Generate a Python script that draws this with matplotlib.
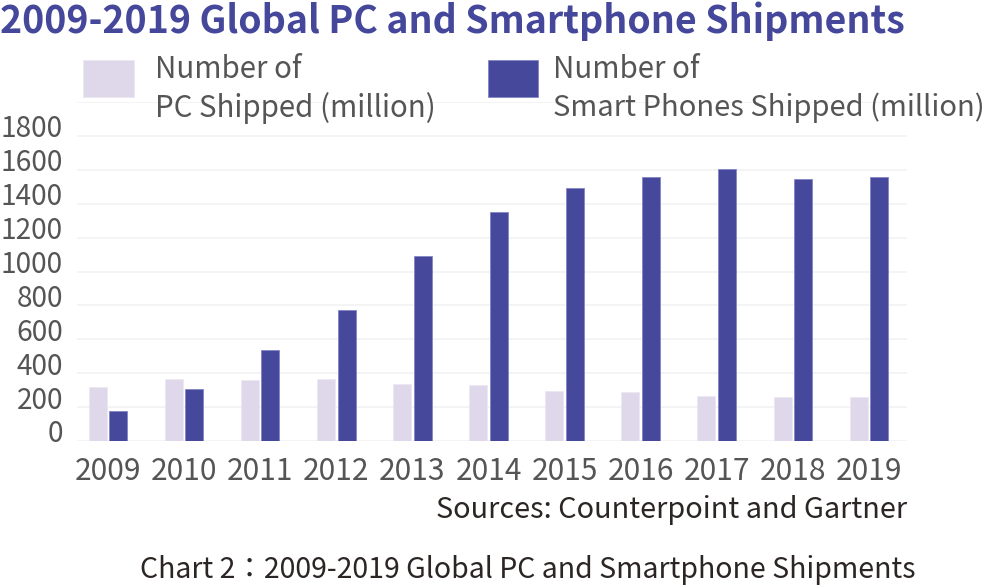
import matplotlib
matplotlib.use("Agg")
import matplotlib.pyplot as plt
from matplotlib.patches import Rectangle
from matplotlib.transforms import ScaledTranslation
import numpy as np

plt.rcParams['font.family'] = ['Noto Sans CJK SC', 'DejaVu Sans']

# data
years = ['2009', '2010', '2011', '2012', '2013', '2014', '2015', '2016', '2017', '2018', '2019']
pc_shipped = [319, 364, 361, 364, 335, 329, 295, 287, 266, 262, 262]
phones_shipped = [177, 307, 535, 773, 1090, 1350, 1492, 1560, 1606, 1543, 1560]
ytick_vals = list(range(0, 2001, 200))
ytick_labels = [str(v) for v in ytick_vals[:-1]] + ['']

# colours
pc_col = '#DFD8EA'
phone_col = '#46489B'
text_col = '#555555'
title_col = '#45479B'
note_col = '#2B2523'

W, H = 991, 588
fig = plt.figure(figsize=(W / 100, H / 100), dpi=100)

# axes placed in pixel terms
ax = fig.add_axes([77 / W, (H - 441) / H, 830 / W, 339 / H])

x = np.arange(len(years))
bw = 0.237
off = 0.135
ax.bar(x - off, pc_shipped, width=bw, color=pc_col, edgecolor='#ECE8F2', linewidth=0.6, zorder=3)
ax.bar(x + off, phones_shipped, width=bw, color=phone_col, edgecolor='#8486C8', linewidth=0.6, zorder=3)

ax.set_xlim(-0.407, 10.5)
ax.set_ylim(0, 2000)
ax.set_yticks(ytick_vals)
ax.set_yticklabels(ytick_labels)
ax.set_xticks(x)
ax.set_xticklabels(years)

ax.grid(axis='y', color='#F2F2F2', linewidth=1.2, zorder=0)
ax.grid(axis='x', visible=False)
for s in ax.spines.values():
    s.set_visible(False)
ax.tick_params(axis='x', length=0, labelsize=21.5, colors=text_col, pad=11)
ax.tick_params(axis='y', length=0, labelsize=20.2, colors=text_col, pad=10)

# y labels sit a little above their gridlines
shift = ScaledTranslation(0, 10 / 100, fig.dpi_scale_trans)
for lab in ax.get_yticklabels():
    lab.set_transform(lab.get_transform() + shift)

def px(xp, yp):
    return xp / W, 1 - yp / H

# title
fig.text(*px(0, 21), '2009-2019 Global PC and Smartphone Shipments', fontsize=27,
         fontweight='bold', color=title_col, va='center', ha='left')

# legend drawn by hand
fig.patches.append(Rectangle(px(83, 97), 51 / W, 37 / H, transform=fig.transFigure,
                             facecolor=pc_col, edgecolor='#ECE8F2', linewidth=0.6))
fig.patches.append(Rectangle(px(488, 97), 50 / W, 37 / H, transform=fig.transFigure,
                             facecolor=phone_col, edgecolor='#8486C8', linewidth=0.6))
fig.text(*px(155, 69), 'Number of', fontsize=21.2, color=text_col, va='center')
fig.text(*px(155, 108), 'PC Shipped (million)', fontsize=21.2, color=text_col, va='center')
fig.text(*px(553, 69), 'Number of', fontsize=21.2, color=text_col, va='center')
fig.text(*px(553, 108), 'Smart Phones Shipped (million)', fontsize=21.0, color=text_col, va='center')

fig.text(*px(907, 510), 'Sources: Counterpoint and Gartner', fontsize=20.8, color=note_col,
         ha='right', va='center')
fig.text(*px(915, 570), 'Chart 2\uff1a2009-2019 Global PC and Smartphone Shipments', fontsize=20.5,
         color=note_col, ha='right', va='center', family=['Noto Sans CJK TC', 'DejaVu Sans'])

fig.savefig('out.png', dpi=100)
